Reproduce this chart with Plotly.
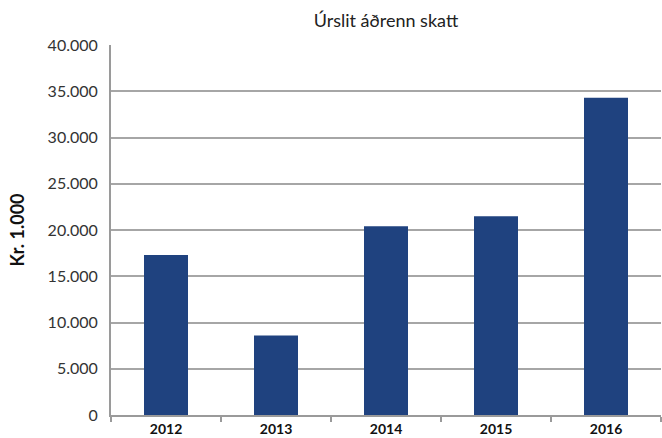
import plotly.graph_objects as go

# Gögn (kr. 1.000)
years = ["2012", "2013", "2014", "2015", "2016"]
result_before_tax = [17300, 8600, 20400, 21500, 34300]

fig = go.Figure()

fig.add_trace(go.Bar(
    x=years,
    y=result_before_tax,
    marker=dict(color='#1F427F', line_width=0),
    hovertemplate='%{x}: %{y:,.0f}<extra></extra>'
))

fig.update_layout(
    title=dict(text='Úrslit áðrenn skatt', x=0.583, xanchor='center', y=0.952, yanchor='middle',
               font=dict(size=18, color='#222222', family='Lato')),
    width=662,
    height=438,
    separators=',.',
    paper_bgcolor='white',
    plot_bgcolor='white',
    font=dict(family='Lato', color='#333333'),
    bargap=0.6,
    showlegend=False,
    margin=dict(l=111, r=1, t=45, b=21),
    xaxis=dict(
        showline=True, linecolor='#9A9A9A', linewidth=2,
        ticks='outside', tickson='boundaries', ticklen=5, tickcolor='#9A9A9A', tickwidth=2,
        tickfont=dict(size=14, color='#111111', family='Lato', weight='bold'),
        showgrid=False,
    ),
    yaxis=dict(
        range=[0, 40000], dtick=5000, tickformat=',d',
        showline=True, linecolor='#9A9A9A', linewidth=2,
        showgrid=True, gridcolor='#A6A6A6', gridwidth=1.5,
        zeroline=False,
        tickfont=dict(size=16, color='#333333'),
        ticks='', ticklabelstandoff=8,
        title=dict(text='Kr. 1.000', standoff=18,
                   font=dict(size=18, color='#111111', weight='bold')),
    ),
)

# fjarlægja sjálfgefna spássíu á body svo myndin byrji í (0, 0)
fig.write_html("out.html", config={'displayModeBar': False},
               post_script="document.body.style.margin='0';")
